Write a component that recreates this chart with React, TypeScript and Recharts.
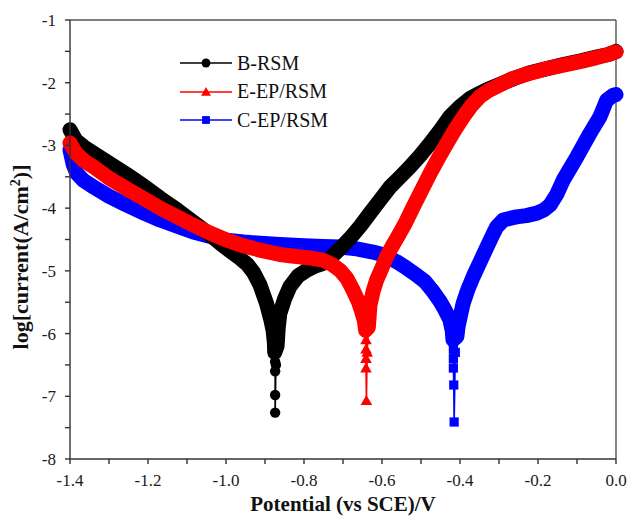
import React from 'react';
import { LineChart, Line, XAxis, YAxis, ReferenceLine, Legend } from 'recharts';

// Tafel curves: [potential (V vs SCE), log current]
const bRsm: [number, number][] = [
  [-1.4, -2.75], [-1.385, -2.92], [-1.365, -3.02], [-1.34, -3.12], [-1.3, -3.28], [-1.255, -3.46],
  [-1.21, -3.65], [-1.169, -3.84], [-1.125, -4.03], [-1.084, -4.22], [-1.05, -4.38], [-1.015, -4.56],
  [-0.99, -4.68], [-0.964, -4.8], [-0.945, -4.9], [-0.93, -5.02], [-0.913, -5.22], [-0.896, -5.52],
  [-0.885, -5.78], [-0.879, -5.96], [-0.876, -6.15], [-0.875, -6.3], [-0.874, -6.45], [-0.874, -6.6],
  [-0.874, -6.98], [-0.874, -7.26], [-0.872, -6.5], [-0.869, -6.2], [-0.866, -5.9], [-0.862, -5.68],
  [-0.85, -5.45], [-0.836, -5.25], [-0.815, -5.08], [-0.793, -4.99], [-0.77, -4.92], [-0.751, -4.88],
  [-0.73, -4.78], [-0.708, -4.65], [-0.682, -4.48], [-0.655, -4.28], [-0.631, -4.08], [-0.605, -3.87],
  [-0.579, -3.66], [-0.553, -3.5], [-0.528, -3.34], [-0.502, -3.16], [-0.477, -2.97], [-0.45, -2.75],
  [-0.426, -2.54], [-0.4, -2.38], [-0.374, -2.25], [-0.35, -2.17], [-0.331, -2.11], [-0.3, -2.03],
  [-0.26, -1.93], [-0.221, -1.84], [-0.18, -1.78], [-0.135, -1.71], [-0.09, -1.65], [-0.05, -1.59],
  [-0.02, -1.55], [0, -1.5],
];

const eEpRsm: [number, number][] = [
  [-1.4, -2.96], [-1.385, -3.12], [-1.365, -3.24], [-1.34, -3.34], [-1.3, -3.52], [-1.255, -3.69],
  [-1.21, -3.85], [-1.169, -4.0], [-1.125, -4.14], [-1.084, -4.27], [-1.04, -4.4], [-0.998, -4.51],
  [-0.955, -4.6], [-0.913, -4.67], [-0.862, -4.74], [-0.836, -4.76], [-0.79, -4.79], [-0.751, -4.83],
  [-0.73, -4.89], [-0.708, -4.99], [-0.69, -5.12], [-0.674, -5.31], [-0.66, -5.5], [-0.652, -5.65],
  [-0.645, -5.8], [-0.642, -5.95], [-0.641, -6.1], [-0.641, -6.25], [-0.641, -6.4], [-0.641, -6.55],
  [-0.64, -7.07], [-0.638, -6.3], [-0.635, -5.9], [-0.631, -5.55], [-0.623, -5.33], [-0.614, -5.15],
  [-0.6, -4.95], [-0.588, -4.77], [-0.575, -4.62], [-0.562, -4.48], [-0.541, -4.25], [-0.52, -3.98],
  [-0.498, -3.71], [-0.477, -3.45], [-0.455, -3.2], [-0.434, -2.97], [-0.412, -2.74], [-0.391, -2.54],
  [-0.37, -2.36], [-0.349, -2.22], [-0.328, -2.13], [-0.306, -2.06], [-0.264, -1.93], [-0.221, -1.85],
  [-0.18, -1.78], [-0.135, -1.72], [-0.09, -1.66], [-0.05, -1.6], [-0.02, -1.55], [0, -1.51],
];

const cEpRsm: [number, number][] = [
  [-1.4, -3.07], [-1.392, -3.3], [-1.383, -3.44], [-1.365, -3.56], [-1.34, -3.66], [-1.3, -3.81],
  [-1.255, -3.95], [-1.21, -4.08], [-1.169, -4.19], [-1.125, -4.29], [-1.084, -4.38], [-1.04, -4.45],
  [-0.998, -4.51], [-0.955, -4.54], [-0.913, -4.56], [-0.862, -4.58], [-0.8, -4.6], [-0.75, -4.61],
  [-0.708, -4.62], [-0.665, -4.65], [-0.623, -4.7], [-0.6, -4.74], [-0.579, -4.8], [-0.558, -4.87],
  [-0.536, -4.96], [-0.513, -5.06], [-0.49, -5.17], [-0.47, -5.32], [-0.451, -5.49], [-0.438, -5.63],
  [-0.426, -5.78], [-0.42, -5.95], [-0.418, -6.1], [-0.417, -6.25], [-0.417, -6.4], [-0.417, -6.55],
  [-0.416, -6.82], [-0.415, -7.41], [-0.412, -6.3], [-0.408, -6.05], [-0.405, -5.89], [-0.392, -5.52],
  [-0.38, -5.3], [-0.366, -5.09], [-0.348, -4.85], [-0.331, -4.62], [-0.318, -4.45], [-0.306, -4.3],
  [-0.289, -4.19], [-0.27, -4.16], [-0.255, -4.14], [-0.23, -4.12], [-0.203, -4.08], [-0.185, -4.03],
  [-0.169, -3.95], [-0.152, -3.78], [-0.135, -3.55], [-0.118, -3.37], [-0.1, -3.18], [-0.084, -3.0],
  [-0.067, -2.81], [-0.041, -2.54], [-0.024, -2.28], [-0.007, -2.2], [0, -2.19],
];

const potentialTicks = [-1.4, -1.3, -1.2, -1.1, -1.0, -0.9, -0.8, -0.7, -0.6, -0.5, -0.4, -0.3, -0.2, -0.1, 0];
const currentTicks = [-8, -7.5, -7, -6.5, -6, -5.5, -5, -4.5, -4, -3.5, -3, -2.5, -2, -1.5, -1];

// below denseDown the markers spread out and only a thin line joins them
const series = [
  { name: 'C-EP/RSM', color: '#0000ff', shape: 'square', raw: cEpRsm, denseDown: -6.1 },
  { name: 'B-RSM', color: '#000000', shape: 'circle', raw: bRsm, denseDown: -6.3 },
  { name: 'E-EP/RSM', color: '#ff0000', shape: 'triangle', raw: eEpRsm, denseDown: -5.95 },
];
const legendOrder = ['B-RSM', 'E-EP/RSM', 'C-EP/RSM'];

const FONT = '"Liberation Serif", "Times New Roman", serif';

function Marker({ cx, cy, shape, color, s = 1 }: any) {
  if (cx == null || cy == null) return null;
  if (shape === 'circle') return <circle cx={cx} cy={cy} r={5.2 * s} fill={color} />;
  if (shape === 'square') {
    const h = 4.6 * s;
    return <rect x={cx - h} y={cy - h} width={2 * h} height={2 * h} fill={color} />;
  }
  const h = 5.8 * s;
  return (
    <polygon
      points={`${cx},${cy - h} ${cx - h},${cy + h * 0.75} ${cx + h},${cy + h * 0.75}`}
      fill={color}
    />
  );
}

function LegendBox() {
  return (
    <div style={{ fontFamily: FONT, fontSize: 20, color: '#111' }}>
      {legendOrder.map((n) => {
        const s = series.find((d) => d.name === n)!;
        return (
          <div key={n} style={{ display: 'flex', alignItems: 'center', height: 28.5 }}>
            <svg width={58} height={20} style={{ display: 'block' }}>
              <line x1={1} x2={53} y1={10} y2={10} stroke={s.color} strokeWidth={1.6} />
              <Marker cx={27} cy={10} shape={s.shape} color={s.color} s={0.85} />
            </svg>
            <span>{n}</span>
          </div>
        );
      })}
    </div>
  );
}

function YTitle() {
  return (
    <text
      transform="translate(28,257) rotate(-90)"
      textAnchor="middle"
      fontFamily={FONT}
      fontWeight="bold"
      fontSize={22}
      fill="#111"
    >
      log[current(A/cm
      <tspan dy={-8} fontSize={14}>2</tspan>
      <tspan dy={8}>)]</tspan>
    </text>
  );
}

function XTitle() {
  return (
    <text x={343} y={511} textAnchor="middle" fontFamily={FONT} fontWeight="bold" fontSize={21} fill="#111">
      Potential (vs SCE)/V
    </text>
  );
}

export default function App() {
  const tick = { fontFamily: FONT, fontSize: 17, fill: '#1a1a1a' };
  return (
    <div style={{ position: 'absolute', left: 0, top: 0, background: '#fff' }}>
      <LineChart width={628} height={519} margin={{ top: 20, right: 12, bottom: 0, left: 0 }}>
        <XAxis
          type="number"
          dataKey="x"
          domain={[-1.4, 0]}
          ticks={potentialTicks}
          interval={0}
          tickFormatter={(v: number) => (Math.round(v * 10) % 2 === 0 ? v.toFixed(1) : '')}
          tick={tick}
          tickSize={5}
          tickMargin={10}
          height={60}
          stroke="#333"
          strokeWidth={1.4}
          allowDuplicatedCategory={false}
          label={<XTitle />}
        />
        <YAxis
          type="number"
          dataKey="y"
          domain={[-8, -1]}
          ticks={currentTicks}
          interval={0}
          tickFormatter={(v: number) => (Number.isInteger(v) ? String(v) : '')}
          tick={tick}
          tickSize={5}
          tickMargin={9}
          width={70}
          stroke="#333"
          strokeWidth={1.4}
          label={<YTitle />}
        />
        <ReferenceLine y={-1} stroke="#555" strokeWidth={1.4} />
        <ReferenceLine x={0} stroke="#555" strokeWidth={1.4} />
        {series.flatMap((s) => {
          const pts = s.raw.map(([x, y]) => ({ x, y }));
          const dense = pts.filter((p) => p.y >= s.denseDown);
          return [
            <Line
              key={s.name + '-band'}
              data={dense}
              dataKey="y"
              stroke={s.color}
              strokeWidth={15}
              strokeLinejoin="round"
              strokeLinecap="round"
              dot={false}
              activeDot={false}
              legendType="none"
              isAnimationActive={false}
            />,
            <Line
              key={s.name}
              name={s.name}
              data={pts}
              dataKey="y"
              stroke={s.color}
              strokeWidth={1.6}
              dot={(p: any) =>
                p.payload && p.payload.y < s.denseDown + 0.45 ? (
                  <Marker key={s.name + p.index} cx={p.cx} cy={p.cy} shape={s.shape} color={s.color} />
                ) : (
                  <g key={s.name + p.index} />
                )
              }
              activeDot={false}
              isAnimationActive={false}
            />,
          ];
        })}
        <Legend
          layout="vertical"
          align="center"
          verticalAlign="middle"
          content={<LegendBox />}
          wrapperStyle={{ left: 179, top: 49, width: 'auto', height: 'auto' }}
        />
      </LineChart>
    </div>
  );
}
